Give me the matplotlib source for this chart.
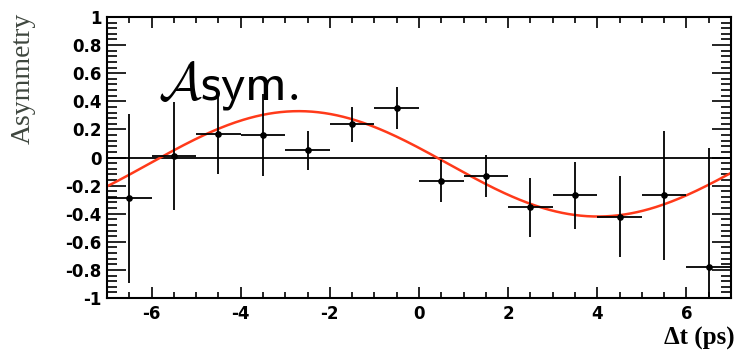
import numpy as np
import matplotlib
matplotlib.use('Agg')
import matplotlib.pyplot as plt
from matplotlib import ticker

# measured asymmetry per 1 ps bin of delta t
bin_centers = [-6.5, -5.5, -4.5, -3.5, -2.5, -1.5, -0.5, 0.5, 1.5, 2.5, 3.5, 4.5, 5.5, 6.5]
asym_values = [-0.29, 0.01, 0.17, 0.16, 0.05, 0.235, 0.355, -0.165, -0.13, -0.355, -0.27, -0.42, -0.27, -0.78]
asym_errors = [0.60, 0.385, 0.29, 0.29, 0.14, 0.125, 0.15, 0.15, 0.15, 0.21, 0.24, 0.29, 0.46, 0.85]
bin_halfwidth = [0.5] * 14

# fitted oscillation: offset + amp * cos(dm * (t - t_peak))
fit_offset = -0.045
fit_amp = 0.375
fit_dm = 0.468
fit_peak = -2.7

plt.rcParams['mathtext.fontset'] = 'cm'

fig = plt.figure(figsize=(7.36, 3.56), dpi=100)
ax = fig.add_axes([0.1454, 0.1629, 0.8478, 0.7893])

t = np.linspace(-7, 7, 400)
ax.plot(t, fit_offset + fit_amp * np.cos(fit_dm * (t - fit_peak)), color='#ff3a1a', lw=1.8, zorder=2)
ax.axhline(0, color='black', lw=1.3, zorder=1)

ax.errorbar(bin_centers, asym_values, yerr=asym_errors, xerr=bin_halfwidth,
            fmt='o', color='black', ms=3.8, elinewidth=1.3, capsize=0, zorder=3)

ax.set_xlim(-7, 7)
ax.set_ylim(-1, 1)

# ROOT-like ticks: inside, on all four sides
ax.xaxis.set_major_locator(ticker.MultipleLocator(2))
ax.xaxis.set_minor_locator(ticker.MultipleLocator(0.5))
ax.yaxis.set_major_locator(ticker.MultipleLocator(0.2))
ax.yaxis.set_minor_locator(ticker.MultipleLocator(0.04))
ax.tick_params(axis='both', which='both', direction='in', top=True, right=True, width=1.2)
ax.tick_params(axis='x', which='major', length=8, pad=5)
ax.tick_params(axis='x', which='minor', length=4)
ax.tick_params(axis='y', which='major', length=14, pad=4)
ax.tick_params(axis='y', which='minor', length=7)

def ylab(v, pos):
    if abs(v) < 1e-9:
        return '0'
    if abs(abs(v) - 1) < 1e-9:
        return '%d' % round(v)
    return ('%.1f' % v)

ax.yaxis.set_major_formatter(ticker.FuncFormatter(ylab))
ax.xaxis.set_major_formatter(ticker.FuncFormatter(lambda v, p: '%d' % round(v)))
for lab in ax.get_xticklabels() + ax.get_yticklabels():
    lab.set_fontweight('bold')
    lab.set_fontsize(12)

for s in ax.spines.values():
    s.set_linewidth(1.5)

fig.text(0.032, 0.965, 'Asymmetry', rotation=90, ha='center', va='top',
         family='Liberation Serif', fontsize=20, color='#3e463e')
fig.text(0.998, 0.018, 'Δt (ps)', ha='right', va='bottom',
         family='Liberation Serif', fontweight='bold', fontsize=18)

ax.text(-5.85, 0.41, r'$\mathcal{A}\mathsf{sym.}$', fontsize=38,
        ha='left', va='baseline', color='black')

fig.savefig('out.png', dpi=100)
